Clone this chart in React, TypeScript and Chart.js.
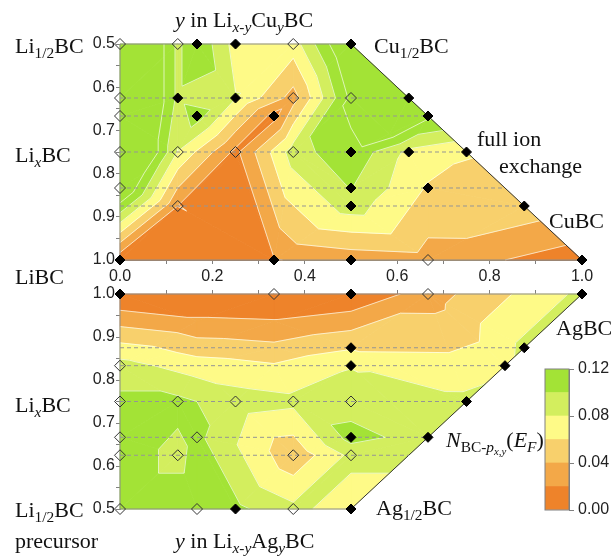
import React, { useEffect, useRef } from "react";
import { Chart, registerables } from "chart.js";

Chart.register(...registerables);

const W = 615;
const H = 556;

// contour levels and band colours (0-0.02, 0.02-0.04, ... , >0.10)
const levels = [0, 0.02, 0.04, 0.06, 0.08, 0.1, 0.12];
const bandColors = ["#EE832A", "#F3A848", "#F8D06C", "#FEFA87", "#D3EE5E", "#A3E336"];
const colorbarTickLabels = ["0.00", "0.04", "0.08", "0.12"];
const xTickLabels = ["0.0", "0.2", "0.4", "0.6", "0.8", "1.0"];
const yTickLabels = ["0.5", "0.6", "0.7", "0.8", "0.9", "1.0"];

// ---- top panel: y in Li(x-y)Cu(y)BC (computed structures) ----
const cuX = [
  0, 0.125, 0.1667, 0.25, 0.375, 0.5,
  0, 0.125, 0.25, 0.375, 0.5, 0.625,
  0, 0.1667, 0.3333, 0.6667,
  0, 0.125, 0.25, 0.375, 0.5, 0.625, 0.75,
  0, 0.5, 0.6667,
  0.125, 0.5, 0.875,
  0, 0.3333, 0.5, 0.6667, 1,
];
const cuY = [
  0.5, 0.5, 0.5, 0.5, 0.5, 0.5,
  0.625, 0.625, 0.625, 0.625, 0.625, 0.625,
  0.6667, 0.6667, 0.6667, 0.6667,
  0.75, 0.75, 0.75, 0.75, 0.75, 0.75, 0.75,
  0.8333, 0.8333, 0.8333,
  0.875, 0.875, 0.875,
  1, 1, 1, 1, 1,
];
const cuZ = [
  0.2, 0.095, 0.118, 0.072, 0.07, 0.15,
  0.2, 0.095, 0.081, 0.032, 0.125, 0.14,
  0.2, 0.11, 0.012, 0.126,
  0.2, 0.079, 0.015, 0.09, 0.116, 0.075, 0.061,
  0.15, 0.101, 0.058,
  0.0201, 0.09, 0.052,
  0.005, 0.019, 0.028, 0.032, 0.008,
];
const cuFilled = [
  0, 0, 1, 1, 0, 1,
  0, 1, 1, 0, 0, 1,
  0, 1, 1, 1,
  0, 0, 0, 0, 1, 1, 1,
  0, 1, 1,
  0, 1, 1,
  1, 1, 1, 0, 1,
];
const cuDashY = [0.625, 0.6667, 0.75, 0.8333, 0.875];
// extra surface samples (no marker) read from the map
const cuExtraX = [0.5833];
const cuExtraY = [0.7083];
const cuExtraZ = [0.13];

// ---- bottom panel: y in Li(x-y)Ag(y)BC ----
const agX = [
  0, 0.3333, 0.5, 0.6667, 1,
  0.5, 0.875,
  0, 0.5, 0.8333,
  0, 0.125, 0.25, 0.375, 0.5, 0.75,
  0, 0.1667, 0.5, 0.6667,
  0, 0.125, 0.375, 0.5,
  0, 0.1667, 0.25, 0.375, 0.5,
];
const agY = [
  1, 1, 1, 1, 1,
  0.875, 0.875,
  0.8333, 0.8333, 0.8333,
  0.75, 0.75, 0.75, 0.75, 0.75, 0.75,
  0.6667, 0.6667, 0.6667, 0.6667,
  0.625, 0.625, 0.625, 0.625,
  0.5, 0.5, 0.5, 0.5, 0.5,
];
const agZ = [
  0.0, 0.0, 0.002, 0.03, 0.085,
  0.058, 0.085,
  0.088, 0.079, 0.075,
  0.105, 0.105, 0.09, 0.085, 0.09, 0.085,
  0.11, 0.105, 0.108, 0.09,
  0.11, 0.095, 0.045, 0.085,
  0.11, 0.11, 0.105, 0.085, 0.07,
];
const agFilled = [
  1, 0, 1, 0, 1,
  1, 1,
  0, 1, 1,
  0, 0, 0, 0, 0, 1,
  0, 0, 1, 1,
  0, 0, 0, 0,
  0, 0, 1, 0, 1,
];
const agDashY = [0.875, 0.8333, 0.75, 0.6667, 0.625];
const agExtraX = [0.1667, 0.1667, 0.1667, 0.3333, 0.3333, 0.3333];
const agExtraY = [0.9375, 0.875, 0.8333, 0.9375, 0.875, 0.8333];
const agExtraZ = [0.023, 0.05, 0.07, 0.021, 0.045, 0.062];

// ---------- helpers ----------
function delaunay(px: number[], py: number[]): number[][] {
  const n = px.length;
  const X = px.concat([-10, 20, -10]);
  const Y = py.concat([-10, -10, 20]);
  type T = { a: number; b: number; c: number; cx: number; cy: number; r2: number };
  const make = (a: number, b: number, c: number): T => {
    const ax = X[a], ay = Y[a], bx = X[b], by = Y[b], cx = X[c], cy = Y[c];
    const d = 2 * (ax * (by - cy) + bx * (cy - ay) + cx * (ay - by));
    const a2 = ax * ax + ay * ay, b2 = bx * bx + by * by, c2 = cx * cx + cy * cy;
    const ux = (a2 * (by - cy) + b2 * (cy - ay) + c2 * (ay - by)) / d;
    const uy = (a2 * (cx - bx) + b2 * (ax - cx) + c2 * (bx - ax)) / d;
    return { a, b, c, cx: ux, cy: uy, r2: (ax - ux) ** 2 + (ay - uy) ** 2 };
  };
  let tris: T[] = [make(n, n + 1, n + 2)];
  for (let i = 0; i < n; i++) {
    const x = X[i], y = Y[i];
    const bad: T[] = [];
    const keep: T[] = [];
    for (const t of tris) {
      if ((x - t.cx) ** 2 + (y - t.cy) ** 2 < t.r2 - 1e-10) bad.push(t);
      else keep.push(t);
    }
    const edges = new Map<string, [number, number, number]>();
    for (const t of bad) {
      const es: [number, number][] = [[t.a, t.b], [t.b, t.c], [t.c, t.a]];
      for (const [u, v] of es) {
        const k = u < v ? u + "_" + v : v + "_" + u;
        const e = edges.get(k);
        if (e) e[2]++;
        else edges.set(k, [u, v, 1]);
      }
    }
    tris = keep;
    for (const [u, v, c] of edges.values()) if (c === 1) tris.push(make(u, v, i));
  }
  return tris.filter((t) => t.a < n && t.b < n && t.c < n).map((t) => [t.a, t.b, t.c]);
}

type P = { x: number; y: number; z: number };
function clipPoly(poly: P[], level: number, above: boolean): P[] {
  const out: P[] = [];
  for (let i = 0; i < poly.length; i++) {
    const a = poly[i];
    const b = poly[(i + 1) % poly.length];
    const ain = above ? a.z >= level : a.z <= level;
    const bin = above ? b.z >= level : b.z <= level;
    if (ain) out.push(a);
    if (ain !== bin) {
      const t = (level - a.z) / (b.z - a.z);
      out.push({ x: a.x + t * (b.x - a.x), y: a.y + t * (b.y - a.y), z: level });
    }
  }
  return out;
}

function contourPlugin(xs: number[], ys: number[], zs: number[]) {
  const tris = delaunay(xs, ys);
  return {
    id: "contour",
    beforeDatasetsDraw(chart: any) {
      const ctx: CanvasRenderingContext2D = chart.ctx;
      const sx = chart.scales.x;
      const sy = chart.scales.y;
      const X = (v: number) => sx.getPixelForValue(v);
      const Y = (v: number) => sy.getPixelForValue(v);
      ctx.save();
      const nb = bandColors.length;
      for (const tri of tris) {
        const poly: P[] = tri.map((i) => ({ x: xs[i], y: ys[i], z: zs[i] }));
        const area =
          (poly[1].x - poly[0].x) * (poly[2].y - poly[0].y) -
          (poly[2].x - poly[0].x) * (poly[1].y - poly[0].y);
        if (Math.abs(area) < 1e-9) continue;
        for (let k = 0; k < nb; k++) {
          let p = poly;
          if (k > 0) p = clipPoly(p, levels[k], true);
          if (k < nb - 1 && p.length >= 3) p = clipPoly(p, levels[k + 1], false);
          if (p.length < 3) continue;
          ctx.beginPath();
          ctx.moveTo(X(p[0].x), Y(p[0].y));
          for (let j = 1; j < p.length; j++) ctx.lineTo(X(p[j].x), Y(p[j].y));
          ctx.closePath();
          ctx.fillStyle = bandColors[k];
          ctx.strokeStyle = bandColors[k];
          ctx.lineWidth = 0.8;
          ctx.fill();
          ctx.stroke();
        }
      }
      // iso lines
      ctx.strokeStyle = "rgba(255,255,255,0.8)";
      ctx.lineWidth = 0.8;
      for (const L of levels.slice(1)) {
        for (const tri of tris) {
          const pts: number[][] = [];
          for (let e = 0; e < 3; e++) {
            const i = tri[e];
            const j = tri[(e + 1) % 3];
            const za = zs[i] - L;
            const zb = zs[j] - L;
            if (za * zb < 0) {
              const t = za / (za - zb);
              pts.push([xs[i] + t * (xs[j] - xs[i]), ys[i] + t * (ys[j] - ys[i])]);
            }
          }
          if (pts.length === 2) {
            ctx.beginPath();
            ctx.moveTo(X(pts[0][0]), Y(pts[0][1]));
            ctx.lineTo(X(pts[1][0]), Y(pts[1][1]));
            ctx.stroke();
          }
        }
      }
      // outline of the composition domain
      const y0 = sy.min, y1 = sy.max;
      ctx.lineWidth = 1;
      ctx.strokeStyle = "#8a8a8a";
      ctx.beginPath();
      ctx.moveTo(X(y0), Y(y0));
      ctx.lineTo(X(0), Y(y0));
      ctx.lineTo(X(0), Y(y1));
      ctx.lineTo(X(y1), Y(y1));
      ctx.stroke();
      ctx.strokeStyle = "#333";
      ctx.beginPath();
      ctx.moveTo(X(y0), Y(y0));
      ctx.lineTo(X(y1), Y(y1));
      ctx.stroke();
      ctx.restore();
    },
  };
}

function markerDatasets(xs: number[], ys: number[], filled: number[]) {
  const f: { x: number; y: number }[] = [];
  const o: { x: number; y: number }[] = [];
  xs.forEach((x, i) => (filled[i] ? f : o).push({ x, y: ys[i] }));
  return [
    {
      data: f,
      pointStyle: "rectRot",
      pointRadius: 5,
      pointBackgroundColor: "#000",
      pointBorderColor: "#000",
      pointBorderWidth: 1,
      showLine: false,
      clip: false,
      order: 0,
    },
    {
      data: o,
      pointStyle: "rectRot",
      pointRadius: 5.5,
      pointBackgroundColor: "rgba(0,0,0,0)",
      pointBorderColor: "#333",
      pointBorderWidth: 1,
      showLine: false,
      clip: false,
      order: 0,
    },
  ];
}

function dashDatasets(ys: number[]) {
  return ys.map((y) => ({
    data: [
      { x: 0, y },
      { x: y, y },
    ],
    showLine: true,
    fill: false,
    pointRadius: 0,
    borderColor: "#959595",
    borderWidth: 1,
    borderDash: [4, 3],
    clip: false,
    order: 1,
  }));
}

const sansFont = { family: '"Liberation Sans", Arial, sans-serif', size: 16 };

function tickCb(list: string[]) {
  return (v: any) => {
    const n = Number(v);
    if (Math.abs(n * 10 - Math.round(n * 10)) > 1e-6) return "";
    const s = n.toFixed(1);
    return list.includes(s) ? s : "";
  };
}

function panelConfig(
  xs: number[], ys: number[], zs: number[], filled: number[], dashY: number[],
  exX: number[], exY: number[], exZ: number[], top: boolean
): any {
  return {
    type: "scatter",
    data: { datasets: [...markerDatasets(xs, ys, filled), ...dashDatasets(dashY)] },
    plugins: [contourPlugin(xs.concat(exX), ys.concat(exY), zs.concat(exZ))],
    options: {
      responsive: false,
      animation: false,
      devicePixelRatio: 1,
      events: [],
      plugins: { legend: { display: false }, tooltip: { enabled: false } },
      layout: {
        padding: top
          ? { left: 80, right: 33, top: 44, bottom: H - 260 - 30 }
          : { left: 80, right: 33, top: 284, bottom: 47 },
      },
      scales: {
        x: {
          type: "linear",
          position: top ? "bottom" : "top",
          min: 0,
          max: 1,
          ticks: {
            display: top,
            stepSize: 0.1,
            autoSkip: false,
            maxRotation: 0,
            callback: tickCb(xTickLabels),
            font: sansFont,
            color: "#222",
            padding: 3,
          },
          grid: { drawOnChartArea: false, drawTicks: true, tickLength: 4, color: "#808080" },
          border: { display: true, color: "#808080" },
          afterFit: (s: any) => {
            s.height = top ? 30 : 10;
          },
        },
        y: {
          type: "linear",
          min: 0.5,
          max: 1,
          reverse: top,
          ticks: {
            stepSize: 0.05,
            autoSkip: false,
            callback: tickCb(yTickLabels),
            font: sansFont,
            color: "#222",
            padding: 1,
          },
          grid: { drawOnChartArea: false, drawTicks: true, tickLength: 4, color: "#808080" },
          border: { display: true, color: "#808080" },
          afterFit: (s: any) => {
            s.width = 40;
          },
        },
      },
    },
  };
}

const colorbarOutline = {
  id: "cbOutline",
  afterDatasetsDraw(chart: any) {
    const { ctx, chartArea: a } = chart;
    ctx.save();
    ctx.strokeStyle = "#808080";
    ctx.lineWidth = 1;
    ctx.strokeRect(a.left, a.top, a.right - a.left, a.bottom - a.top);
    ctx.restore();
  },
};

function colorbarConfig(): any {
  return {
    type: "bar",
    data: {
      labels: [""],
      datasets: bandColors.map((c, i) => ({
        data: [levels[i + 1] - levels[i]],
        backgroundColor: c,
        borderWidth: 0,
        barPercentage: 1,
        categoryPercentage: 1,
      })),
    },
    plugins: [colorbarOutline],
    options: {
      responsive: false,
      animation: false,
      devicePixelRatio: 1,
      events: [],
      plugins: { legend: { display: false }, tooltip: { enabled: false } },
      layout: { padding: { left: 545, right: 0, top: 369, bottom: 46 } },
      scales: {
        x: { stacked: true, display: false },
        y: {
          stacked: true,
          position: "right",
          min: 0,
          max: 0.12,
          ticks: {
            stepSize: 0.04,
            callback: (v: any) => {
              const s = Number(v).toFixed(2);
              return colorbarTickLabels.includes(s) ? s : "";
            },
            font: sansFont,
            color: "#222",
            padding: 4,
          },
          grid: { drawOnChartArea: false, tickLength: 5, color: "#808080" },
          border: { display: true, color: "#808080" },
          afterFit: (s: any) => {
            s.width = 46;
          },
        },
      },
    },
  };
}

const serif = '"Liberation Serif", "Times New Roman", serif';

function Txt({ x, b, children }: { x: number; b: number; children: any }) {
  return (
    <div
      style={{
        position: "absolute",
        left: x,
        top: b - 18.4,
        fontFamily: serif,
        fontSize: 22,
        lineHeight: "22px",
        whiteSpace: "nowrap",
        color: "#111",
      }}
    >
      {children}
    </div>
  );
}

function Sub({ children }: { children: any }) {
  return <span style={{ fontSize: "0.7em", position: "relative", top: "0.32em" }}>{children}</span>;
}

export default function App() {
  const topRef = useRef<HTMLCanvasElement>(null);
  const botRef = useRef<HTMLCanvasElement>(null);
  const cbRef = useRef<HTMLCanvasElement>(null);

  useEffect(() => {
    const charts = [
      new Chart(
        topRef.current as HTMLCanvasElement,
        panelConfig(cuX, cuY, cuZ, cuFilled, cuDashY, cuExtraX, cuExtraY, cuExtraZ, true)
      ),
      new Chart(
        botRef.current as HTMLCanvasElement,
        panelConfig(agX, agY, agZ, agFilled, agDashY, agExtraX, agExtraY, agExtraZ, false)
      ),
      new Chart(cbRef.current as HTMLCanvasElement, colorbarConfig()),
    ];
    return () => charts.forEach((c) => c.destroy());
  }, []);

  const cs: any = { position: "absolute", left: 0, top: 0 };
  return (
    <div style={{ position: "absolute", left: 0, top: 0, width: W, height: H, background: "#fff", overflow: "hidden" }}>
      <canvas ref={topRef} width={W} height={H} style={cs} />
      <canvas ref={botRef} width={W} height={H} style={cs} />
      <canvas ref={cbRef} width={W} height={H} style={cs} />

      <Txt x={175} b={27}>
        <i>y</i> in Li<Sub><i>x</i>-<i>y</i></Sub>Cu<Sub><i>y</i></Sub>BC
      </Txt>
      <Txt x={15} b={53}>
        Li<Sub>1/2</Sub>BC
      </Txt>
      <Txt x={15} b={162}>
        Li<Sub><i>x</i></Sub>BC
      </Txt>
      <Txt x={15} b={284}>LiBC</Txt>
      <Txt x={15} b={412}>
        Li<Sub><i>x</i></Sub>BC
      </Txt>
      <Txt x={15} b={517}>
        Li<Sub>1/2</Sub>BC
      </Txt>
      <Txt x={15} b={548}>precursor</Txt>
      <Txt x={175} b={548}>
        <i>y</i> in Li<Sub><i>x</i>-<i>y</i></Sub>Ag<Sub><i>y</i></Sub>BC
      </Txt>
      <Txt x={374} b={53}>
        Cu<Sub>1/2</Sub>BC
      </Txt>
      <Txt x={477} b={146}>full ion</Txt>
      <Txt x={499} b={173}>exchange</Txt>
      <Txt x={549} b={228}>CuBC</Txt>
      <Txt x={556} b={335}>AgBC</Txt>
      <Txt x={376} b={515}>
        Ag<Sub>1/2</Sub>BC
      </Txt>
      <Txt x={446} b={447}>
        <i>N</i>
        <Sub>
          BC-<i>p</i>
          <Sub>
            <i>x,y</i>
          </Sub>
        </Sub>
        (<i>E</i>
        <Sub>
          <i>F</i>
        </Sub>
        )
      </Txt>
    </div>
  );
}
